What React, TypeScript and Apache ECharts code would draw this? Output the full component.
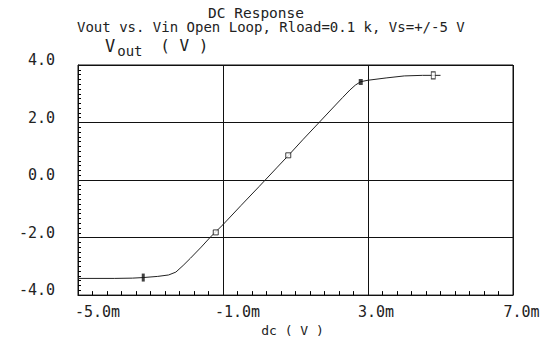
import React, { useEffect, useRef } from "react";
import * as echarts from "echarts";

// Vin in mV, Vout in V
const vin = [-5.0, -4.0, -3.5, -3.2, -2.8, -2.5, -2.3, -2.1, -1.9, -1.6, -1.36, -1.0, -0.5, 0.0, 0.5, 0.8, 1.2, 1.65, 2.0, 2.3, 2.5, 2.65, 2.8, 3.0, 3.5, 4.0, 4.5, 5.0];
const vout = [-3.42, -3.42, -3.41, -3.39, -3.35, -3.3, -3.2, -2.97, -2.72, -2.33, -2.0, -1.55, -0.88, -0.22, 0.45, 0.85, 1.4, 2.0, 2.47, 2.87, 3.13, 3.3, 3.42, 3.47, 3.55, 3.62, 3.64, 3.64];

const markerVin = [-3.2, -1.2, 0.8, 2.8, 4.8];
const markerVout = [-3.39, -1.82, 0.86, 3.41, 3.64];

const xMin = -5;
const xMax = 7;
const xStep = 4;
const yMin = -4;
const yMax = 4;
const yStep = 2;

const titleLine1 = "DC Response";
const titleLine2 = "Vout vs. Vin Open Loop, Rload=0.1 k, Vs=+/-5 V";
const xName = "dc ( V )";

const FONT = "DejaVu Sans Mono";
const INK = "#111";

export default function App() {
  const ref = useRef<HTMLDivElement>(null);
  useEffect(() => {
    if (!ref.current) return;
    const chart = echarts.init(ref.current, null, { renderer: "svg" });
    const lineData = vin.map((x, i) => [x, vout[i]]);
    const markerStyles = [
      { symbolSize: [3, 8], itemStyle: { color: INK, borderColor: INK, borderWidth: 0 } },
      { symbolSize: [5, 5], itemStyle: { color: "#fff", borderColor: INK, borderWidth: 1 } },
      { symbolSize: [5, 5], itemStyle: { color: "#fff", borderColor: INK, borderWidth: 1 } },
      { symbolSize: [4, 6], itemStyle: { color: INK, borderColor: INK, borderWidth: 0 } },
      { symbolSize: [4, 7], itemStyle: { color: "#fff", borderColor: INK, borderWidth: 1 } },
    ];
    const markerData = markerVin.map((x, i) => ({ value: [x, markerVout[i]], ...markerStyles[i] }));
    const xShift: Record<string, number> = { "-5": 39, "-1": 29, "3": 16, "7": 17 };
    const rich: Record<string, any> = {};
    Object.keys(xShift).forEach((k, i) => {
      rich["l" + i] = { fontFamily: FONT, fontSize: 15, color: "#222", padding: [0, 0, 0, xShift[k]] };
    });
    const option: any = {
      animation: false,
      backgroundColor: "#fff",
      grid: { left: 78, right: 42, top: 65, bottom: 40, show: true, borderColor: INK, borderWidth: 1, backgroundColor: "transparent" },
      xAxis: {
        type: "value",
        min: xMin,
        max: xMax,
        interval: xStep,
        name: xName,
        nameLocation: "middle",
        nameGap: 24,
        nameTextStyle: { fontFamily: FONT, fontSize: 13, color: "#222", padding: [0, 6, 0, 0] },
        axisLine: { show: true, onZero: false, lineStyle: { color: INK, width: 1 } },
        axisTick: { show: true, inside: true, length: 4, lineStyle: { color: INK, width: 1 } },
        minorTick: { show: true, splitNumber: 10, length: 4, lineStyle: { color: "#000", width: 1 } },
        splitLine: { show: true, lineStyle: { color: INK, width: 1 } },
        axisLabel: {
          margin: 9,
          formatter: (v: number) => {
            const keys = Object.keys(xShift);
            const idx = keys.indexOf(String(Math.round(v)));
            return "{l" + idx + "|" + v.toFixed(1) + "m}";
          },
          rich,
        },
      },
      yAxis: {
        type: "value",
        min: yMin,
        max: yMax,
        interval: yStep,
        axisLine: { show: true, onZero: false, lineStyle: { color: INK, width: 1 } },
        axisTick: { show: true, inside: true, length: 3, lineStyle: { color: INK, width: 1 } },
        minorTick: { show: true, splitNumber: 12, length: 3, lineStyle: { color: "#000", width: 1 } },
        splitLine: { show: true, lineStyle: { color: INK, width: 1 } },
        axisLabel: {
          margin: 23,
          fontFamily: FONT,
          fontSize: 15,
          color: "#222",
          verticalAlign: "bottom",
          lineHeight: 10,
          formatter: (v: number) => v.toFixed(1),
        },
      },
      graphic: [
        {
          type: "text",
          left: 208,
          top: 5,
          style: { text: titleLine1, fontFamily: FONT, fontSize: 14.5, fill: "#222" },
        },
        {
          type: "text",
          left: 77,
          top: 20,
          style: { text: titleLine2, fontFamily: FONT, fontSize: 14, fill: "#222" },
        },
        {
          type: "text",
          left: 105,
          top: 37,
          style: {
            text: "{a|V}{b|out}{c| ( V )}",
            rich: {
              a: { fontFamily: FONT, fontSize: 17, lineHeight: 14, verticalAlign: "top", fill: "#222" },
              b: { fontFamily: FONT, fontSize: 14, lineHeight: 21, verticalAlign: "bottom", fill: "#222", padding: [0, 0, 0, 2] },
              c: { fontFamily: FONT, fontSize: 16, lineHeight: 12, verticalAlign: "top", fill: "#222", padding: [0, 0, 0, 8] },
            },
          },
        },
      ],
      series: [
        {
          type: "line",
          data: lineData,
          showSymbol: false,
          symbol: "none",
          lineStyle: { color: "#222", width: 1 },
          silent: true,
        },
        {
          type: "scatter",
          symbol: "rect",
          data: markerData,
          silent: true,
          z: 5,
        },
      ],
    };
    chart.setOption(option);
    return () => chart.dispose();
  }, []);
  return <div ref={ref} style={{ position: "fixed", left: 0, top: 0, width: 555, height: 342 }} />;
}
